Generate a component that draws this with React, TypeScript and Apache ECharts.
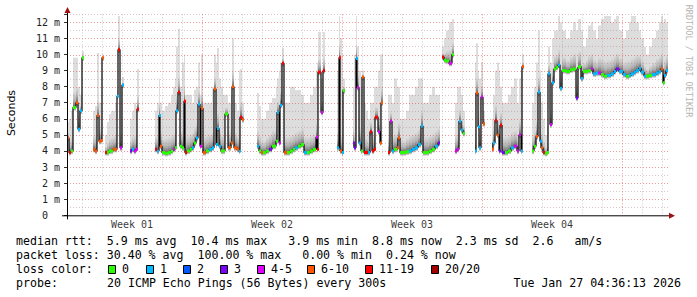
import React, { useEffect, useRef } from "react";
import * as echarts from "echarts";

// One RRA row per pixel column, 72 minutes each (30 days over ~600 rows)
const ROW_MINUTES = 72;
const TOTAL_ROWS = 601;

// Sample rows (null median = no data / gap marker)
const rowIdx = [
  0, 2, 4, 6, 9, 11, 13, 15, 17,
  26, 28, 30, 32, 34, 35, 37,
  38, 40, 42, 44, 46, 48, 50, 51, 53, 55, 57,
  63, 65, 67, 69, 70, 72,
  88, 90, 92, 93, 95, 98, 101, 104, 106, 108, 109, 111, 113, 115, 117, 118, 120, 123, 125, 127,
  129, 131, 133, 134, 136, 139, 142, 145, 147, 149, 150, 152, 154, 156, 158, 161, 164, 165, 167, 170,
  172, 173, 175, 177,
  190, 192, 194, 196, 199, 202, 205, 209, 210, 212, 213, 215, 217, 220, 223, 226, 228, 231, 234, 237,
  240, 243, 246, 249, 250, 251, 254, 256, 258,
  270, 272, 273, 275, 276, 278,
  286, 287, 289, 290, 292, 294, 295, 297, 299, 301, 303, 305, 307, 308, 311, 313, 314, 316,
  321, 323, 325, 327, 330, 331, 333, 336, 339, 342, 345, 348, 351, 354, 356, 359, 362, 365, 368, 371, 373,
  375, 377, 379, 382, 385, 387,
  388, 390, 392, 394, 396, 398,
  408, 409, 411, 412, 414, 416, 418,
  425, 426, 428, 430, 432, 433, 435, 438, 441, 444, 447, 450, 452, 454, 455, 457,
  465, 467, 469, 471, 473, 474, 476, 478, 480, 481, 483, 485, 487, 489, 491, 493, 495, 499, 503, 506,
  509, 511, 512, 514, 516, 519, 521, 524, 526, 529, 531, 534, 537, 540, 544, 547, 549, 552, 556, 559,
  562, 564, 567, 569, 572, 574, 577, 579, 582, 585, 589, 592, 594, 596, 597, 599,
];

// Median round trip time (ms)
const medianMs = [
  4.8, 3.9, 4.0, 6.7, 7.0, 5.35, 6.5, 9.8, null,
  4.1, 4.0, 6.2, 4.6, 4.65, 9.8, null,
  3.9, 3.9, 4.0, 4.0, 4.1, 4.1, 7.4, 10.3, 4.2, 8.1, null,
  4.0, 4.1, 4.0, 4.1, 6.6, null,
  4.1, 4.0, 6.2, 4.3, 3.9, 3.85, 3.9, 4.0, 4.1, 4.2, 6.5, 7.65, 4.3, 4.2, 7.1, 3.9, 4.0, 4.1, 4.2, 4.5,
  4.8, 6.9, 4.3, 6.65, 3.9, 4.0, 4.1, 4.2, 7.85, 4.4, 5.4, 4.3, 4.0, 4.0, 6.3, 4.2, 4.5, 8.0, 4.2, 4.1,
  4.0, 6.1, 5.95, null,
  4.3, 4.0, 3.9, 3.9, 4.0, 4.1, 4.3, 4.6, 6.4, 4.5, 6.85, 9.45, 3.9, 3.9, 4.0, 4.1, 4.2, 4.3, 4.4, 3.9,
  3.9, 4.0, 4.1, 4.85, 4.1, 8.9, 6.4, 9.0, null,
  4.2, 9.8, 4.0, 3.9, 7.75, null,
  4.5, 4.2, 9.75, 7.95, 4.5, 4.0, 8.6, 3.9, 3.9, 3.9, 5.2, 4.0, 4.1, 6.1, 5.2, 4.5, 7.0, null,
  3.9, 5.85, 4.0, 4.1, 4.2, 4.8, 3.9, 3.9, 3.95, 4.0, 4.1, 4.2, 4.4, 5.55, 3.9, 3.9, 4.0, 4.1, 4.3, 4.5, null,
  9.85, 9.65, 9.6, 9.45, 10.0, null,
  4.0, 4.1, 5.85, 5.3, 5.1, null,
  4.0, 7.6, 5.5, 4.2, 7.35, 5.7, null,
  4.1, 4.5, 5.9, 5.0, 4.0, 5.6, 3.9, 3.9, 4.0, 4.2, 4.3, 4.0, 5.0, 4.0, 9.25, null,
  4.0, 4.3, 4.9, 7.65, 4.6, 4.2, 3.9, 3.85, 3.9, 8.8, 5.65, 8.25, 9.1, 9.2, 9.35, 7.9, 9.0, 8.95, 9.05, 9.1,
  7.3, 9.2, 9.25, 8.5, 8.95, 8.95, 9.0, 9.1, 8.8, 8.85, 8.85, 8.75, 8.65, 8.7, 8.8, 8.95, 9.1, 8.95, 8.75, 8.65,
  8.7, 8.8, 8.9, 9.0, 9.15, 8.9, 8.65, 8.65, 8.7, 8.75, 8.85, 8.95, 9.1, 8.25, 8.7, 9.0,
];

// Highest ping of the 20 (top of the smoke), ms
const smokeMaxMs = [
  5.8, 6.0, 6.5, 9.8, 9.8, 8.0, 7.5, 10.2, null,
  6.5, 6.8, 10.1, 7.0, 7.0, 10.0, null,
  5.0, 5.8, 6.3, 6.5, 6.5, 7.0, 7.8, 12.4, 8.0, 8.6, null,
  6.0, 6.5, 7.0, 6.8, 9.1, null,
  6.5, 7.0, 8.5, 7.0, 6.5, 6.8, 7.0, 7.5, 8.0, 8.5, 10.5, 11.6, 8.0, 9.5, 10.0, 7.5, 7.5, 7.5, 7.0, 7.8,
  8.0, 9.5, 7.5, 10.0, 7.0, 7.0, 7.0, 8.0, 10.0, 9.5, 10.4, 8.5, 8.0, 7.5, 7.5, 7.0, 7.5, 11.0, 7.0, 6.5,
  9.0, 9.1, 7.0, null,
  7.6, 6.8, 6.0, 6.0, 6.5, 7.0, 7.3, 8.0, 8.5, 9.0, 9.5, 10.4, 7.0, 7.0, 8.0, 8.0, 7.8, 7.8, 7.5, 7.0,
  7.0, 7.5, 8.0, 9.0, 9.5, 11.4, 8.5, 11.4, null,
  9.0, 12.4, 11.0, 10.0, 8.5, null,
  8.0, 10.0, 12.4, 10.5, 9.0, 8.0, 9.0, 7.0, 6.5, 6.0, 7.0, 7.0, 8.0, 8.0, 9.0, 10.0, 10.0, null,
  7.5, 7.5, 7.0, 8.5, 8.0, 8.0, 6.0, 6.0, 6.5, 7.5, 7.5, 8.0, 8.5, 8.5, 7.0, 7.0, 7.5, 8.0, 7.5, 7.5, null,
  10.5, 11.0, 11.5, 12.0, 12.2, null,
  7.0, 8.0, 8.0, 7.5, 6.5, null,
  9.5, 10.7, 9.0, 8.5, 9.5, 6.5, null,
  6.0, 7.5, 9.0, 9.5, 9.0, 8.0, 7.0, 7.0, 7.5, 8.0, 8.5, 7.0, 8.5, 9.0, 10.0, null,
  7.0, 8.0, 9.5, 11.5, 9.0, 7.0, 6.0, 5.0, 5.5, 10.5, 9.5, 11.0, 11.5, 11.5, 12.4, 12.0, 11.5, 11.0, 11.5, 12.0,
  11.5, 12.2, 12.2, 11.5, 10.5, 11.0, 11.8, 12.0, 11.5, 11.0, 11.8, 12.2, 12.4, 12.4, 12.0, 12.2, 12.4, 11.5, 11.0, 11.5,
  12.0, 12.4, 12.4, 12.0, 11.5, 11.0, 10.5, 10.0, 10.5, 11.0, 11.5, 12.0, 12.4, 12.0, 12.2, 12.0,
];

// Loss bucket index into LOSS_LABELS
const lossBucket = [
  5, 6, 0, 0, 5, 1, 1, 0, null,
  5, 5, 5, 5, 5, 5, null,
  6, 0, 0, 0, 5, 5, 1, 6, 4, 1, null,
  3, 1, 4, 4, 6, null,
  6, 1, 1, 5, 0, 0, 0, 0, 4, 0, 1, 6, 0, 0, 6, 6, 0, 0, 1, 0,
  1, 1, 4, 5, 5, 0, 1, 1, 5, 1, 1, 1, 0, 0, 0, 5, 5, 5, 5, 5,
  1, 6, 5, null,
  1, 0, 5, 0, 0, 3, 0, 0, 1, 4, 1, 6, 5, 0, 0, 0, 1, 0, 0, 1,
  0, 0, 0, 4, 6, 6, 4, 6, null,
  1, 6, 5, 1, 0, null,
  3, 3, 1, 4, 1, 0, 5, 6, 6, 1, 6, 6, 6, 6, 4, 5, 5, null,
  6, 4, 1, 0, 5, 5, 0, 0, 0, 1, 1, 1, 1, 1, 0, 0, 0, 0, 1, 3, null,
  6, 0, 0, 4, 0, null,
  4, 4, 1, 1, 0, null,
  1, 5, 1, 1, 4, 5, null,
  5, 1, 6, 5, 3, 6, 3, 0, 0, 1, 4, 4, 4, 1, 5, null,
  0, 0, 5, 1, 1, 5, 6, 0, 0, 1, 4, 1, 0, 0, 1, 1, 0, 0, 0, 0,
  3, 0, 0, 1, 0, 0, 0, 4, 1, 1, 4, 0, 0, 1, 1, 1, 3, 1, 1, 0,
  1, 1, 1, 1, 1, 1, 1, 0, 0, 1, 1, 1, 5, 0, 1, 1,
];

const LOSS_LABELS = ["0", "1", "2", "3", "4-5", "6-10", "11-19", "20/20"];
const LOSS_COLORS = ["#26ff00", "#00b8ff", "#0059ff", "#7e00ff", "#dd00ff", "#ff5500", "#ff0000", "#a10000"];

const Y_MAX_MS = 12.5;
const yGridMs = [0.5, 1, 1.5, 2, 2.5, 3, 3.5, 4, 4.5, 5, 5.5, 6, 6.5, 7, 7.5, 8, 8.5, 9, 9.5, 10, 10.5, 11, 11.5, 12, 12.5];
const FIRST_MIDNIGHT_ROW = 15;
const ROWS_PER_DAY = 20;
const weekStartRows = [135, 275, 415, 555];
const weekLabelRows = [65, 205, 345, 485];
const weekLabels = ["Week 01", "Week 02", "Week 03", "Week 04"];

const legendRtt = "median rtt:  5.9 ms avg  10.4 ms max   3.9 ms min  8.8 ms now  2.3 ms sd  2.6   am/s";
const legendLoss = "packet loss: 30.40 % avg  100.00 % max   0.00 % min  0.24 % now";
const probeText = "20 ICMP Echo Pings (56 Bytes) every 300s";
const stampText = "Tue Jan 27 04:36:13 2026";

const GRID = { left: 67, top: 14.3, right: 29, bottom: 81.7 };
const MONO = '"DejaVu Sans Mono", monospace';
const nb = (s: string) => s.replace(/ /g, "\u00a0");

export default function App() {
  const ref = useRef<HTMLDivElement>(null);
  useEffect(() => {
    if (!ref.current) return;
    const chart = echarts.init(ref.current, undefined, { renderer: "svg" });

    const samples: number[][] = [];
    for (let i = 0; i < rowIdx.length; i++) {
      if (medianMs[i] == null) continue;
      const next = i + 1 < rowIdx.length && medianMs[i + 1] != null ? rowIdx[i + 1] : rowIdx[i] + 2;
      samples.push([rowIdx[i], medianMs[i] as number, smokeMaxMs[i] as number, next, lossBucket[i] as number]);
    }
    const lineData = rowIdx.map((r, i) => [r, medianMs[i]]);

    const dayRows: number[] = [];
    for (let r = FIRST_MIDNIGHT_ROW; r < TOTAL_ROWS; r += ROWS_PER_DAY) dayRows.push(r);

    const darkUp = new echarts.graphic.LinearGradient(0, 0, 0, 1, [
      { offset: 0, color: "#dddddd" },
      { offset: 0.55, color: "#b4b4b4" },
      { offset: 1, color: "#666666" },
    ]);
    const darkDown = new echarts.graphic.LinearGradient(0, 0, 0, 1, [
      { offset: 0, color: "#707070" },
      { offset: 1, color: "#d8d8d8" },
    ]);

    const legendGraphics: any[] = [
      { type: "text", x: 16, y: 241, style: { text: nb(legendRtt), font: `11.6px ${MONO}`, fill: "#000", verticalAlign: "middle" } },
      { type: "text", x: 16, y: 255, style: { text: nb(legendLoss), font: `11.6px ${MONO}`, fill: "#000", verticalAlign: "middle" } },
      { type: "text", x: 16, y: 269, style: { text: nb("loss color:"), font: `11.6px ${MONO}`, fill: "#000", verticalAlign: "middle" } },
      { type: "text", x: 16, y: 283, style: { text: nb("probe:"), font: `11.6px ${MONO}`, fill: "#000", verticalAlign: "middle" } },
      { type: "text", x: 107, y: 283, style: { text: nb(probeText), font: `11.6px ${MONO}`, fill: "#000", verticalAlign: "middle" } },
      { type: "text", x: 681, y: 283, style: { text: nb(stampText), font: `11.6px ${MONO}`, fill: "#000", verticalAlign: "middle", align: "right" } },
    ];
    const boxX = [108, 146, 183, 220, 257, 307, 365, 431];
    LOSS_LABELS.forEach((lab, i) => {
      legendGraphics.push({
        type: "rect",
        shape: { x: boxX[i] + 0.5, y: 265.5, width: 7, height: 8 },
        style: { fill: LOSS_COLORS[i], stroke: "#000", lineWidth: 1 },
      });
      legendGraphics.push({
        type: "text", x: boxX[i] + 14, y: 269,
        style: { text: lab, font: `11.6px ${MONO}`, fill: "#000", verticalAlign: "middle" },
      });
    });

    const plotBottom = 297 - GRID.bottom;
    const plotRight = 697 - GRID.right;

    const option: any = {
      animation: false,
      backgroundColor: "#ffffff",
      grid: { left: GRID.left, top: GRID.top, right: GRID.right, bottom: GRID.bottom },
      xAxis: {
        type: "value", min: 0, max: TOTAL_ROWS,
        axisLine: { show: false }, axisTick: { show: false }, axisLabel: { show: false }, splitLine: { show: false },
      },
      yAxis: {
        type: "value", min: 0, max: Y_MAX_MS, interval: 1,
        axisLine: { show: false },
        axisTick: { show: true, length: 3, lineStyle: { color: "#333" } },
        splitLine: { show: false },
        axisLabel: {
          margin: 7, fontFamily: MONO, fontSize: 10, color: "#222",
          formatter: (v: number) => (v === 0 ? "{z|0}" : Number.isInteger(v) ? `${v} m` : ""),
          rich: { z: { padding: [0, 12, 0, 0], fontFamily: MONO, fontSize: 10, color: "#222" } },
        },
      },
      graphic: [
        ...legendGraphics,
        { type: "text", x: 11, y: 113, rotation: Math.PI / 2, style: { text: "Seconds", font: '11px "DejaVu Sans"', fill: "#000", align: "center", verticalAlign: "middle" } },
        { type: "text", x: 688.5, y: 61, rotation: -Math.PI / 2, style: { text: nb("RRDTOOL / TOBI OETIKER"), font: `8.5px ${MONO}`, fill: "#b5b5b5", align: "center", verticalAlign: "middle" } },
        { type: "line", shape: { x1: 62, y1: plotBottom + 0.5, x2: plotRight + 1, y2: plotBottom + 0.5 }, style: { stroke: "#000", lineWidth: 1 }, z: 50 },
        { type: "line", shape: { x1: GRID.left + 0.5, y1: plotBottom + 4, x2: GRID.left + 0.5, y2: 12 }, style: { stroke: "#000", lineWidth: 1 }, z: 50 },
        { type: "polygon", shape: { points: [[GRID.left - 2.5, 13], [GRID.left + 3.5, 13], [GRID.left + 0.5, 7]] }, style: { fill: "#a01010" }, z: 51 },
        { type: "polygon", shape: { points: [[plotRight + 1, plotBottom - 2.5], [plotRight + 1, plotBottom + 3.5], [plotRight + 7, plotBottom + 0.5]] }, style: { fill: "#a01010" }, z: 51 },
      ],
      series: [
        {
          name: "smoke", type: "custom", z: 1, clip: true,
          data: samples,
          encode: { x: [0, 3], y: [1, 2] },
          renderItem: (params: any, api: any) => {
            const r0 = api.value(0), med = api.value(1), mx = api.value(2), r1 = api.value(3);
            const p0 = api.coord([r0, med]);
            const p1 = api.coord([r1, mx]);
            const w = Math.max(1, p1[0] - p0[0]);
            const band = Math.min(1.0, (mx - med) * 0.35);
            const yBand = api.coord([r0, med + band])[1];
            const yBelow = api.coord([r0, Math.max(0, med - 0.2)])[1];
            return {
              type: "group",
              children: [
                { type: "rect", shape: { x: p0[0], y: p1[1], width: w, height: p0[1] - p1[1] }, style: { fill: "#dddddd" } },
                { type: "rect", shape: { x: p0[0], y: yBand, width: w, height: p0[1] - yBand }, style: { fill: darkUp } },
                { type: "rect", shape: { x: p0[0], y: p0[1], width: w, height: yBelow - p0[1] }, style: { fill: darkDown } },
              ],
            };
          },
        },
        {
          name: "hgrid", type: "custom", z: 2, silent: true,
          data: yGridMs.map((v) => [0, v]),
          renderItem: (params: any, api: any) => {
            const v = api.value(1);
            const y = Math.round(api.coord([0, v])[1]) + 0.5;
            const cs = params.coordSys;
            const major = Number.isInteger(v);
            return {
              type: "line",
              shape: { x1: cs.x, y1: y, x2: cs.x + cs.width, y2: y },
              style: { stroke: major ? "rgba(225,70,70,0.55)" : "rgba(170,130,130,0.45)", lineWidth: 1, lineDash: [1, 2] },
            };
          },
        },
        {
          name: "vgrid", type: "custom", z: 2, silent: true,
          data: dayRows.map((r) => [r, 0]),
          renderItem: (params: any, api: any) => {
            const r = api.value(0);
            const x = Math.round(api.coord([r, 0])[0]) + 0.5;
            const cs = params.coordSys;
            const major = weekStartRows.indexOf(r) >= 0;
            return {
              type: "line",
              shape: { x1: x, y1: cs.y, x2: x, y2: cs.y + cs.height },
              style: { stroke: major ? "rgba(225,70,70,0.6)" : "rgba(140,140,140,0.45)", lineWidth: 1, lineDash: [1, 2] },
            };
          },
        },
        {
          name: "median", type: "line", z: 3, step: "end", showSymbol: false, symbol: "none",
          connectNulls: false, data: lineData,
          lineStyle: { color: "#000", width: 1.2 },
        },
        {
          name: "loss", type: "custom", z: 4,
          data: samples,
          encode: { x: [0, 3], y: 1 },
          renderItem: (params: any, api: any) => {
            const p0 = api.coord([api.value(0), api.value(1)]);
            const p1 = api.coord([api.value(3), api.value(1)]);
            return {
              type: "rect",
              shape: { x: p0[0], y: p0[1] - 1.5, width: Math.max(2, p1[0] - p0[0]), height: 3 },
              style: { fill: LOSS_COLORS[api.value(4)] },
            };
          },
        },
        {
          name: "weeks", type: "scatter", z: 5, silent: true, clip: false,
          data: weekLabelRows.map((r) => [r, 0]),
          symbolSize: 1, itemStyle: { color: "rgba(0,0,0,0)" },
          label: {
            show: true, position: "bottom", distance: 4,
            formatter: (p: any) => weekLabels[p.dataIndex],
            fontFamily: MONO, fontSize: 10, color: "#000",
          },
        },
      ],
    };
    chart.setOption(option);
    return () => chart.dispose();
  }, []);
  return (
    <div
      ref={ref}
      style={{ position: "fixed", left: 0, top: 0, width: 697, height: 297, background: "#fff" }}
    />
  );
}
